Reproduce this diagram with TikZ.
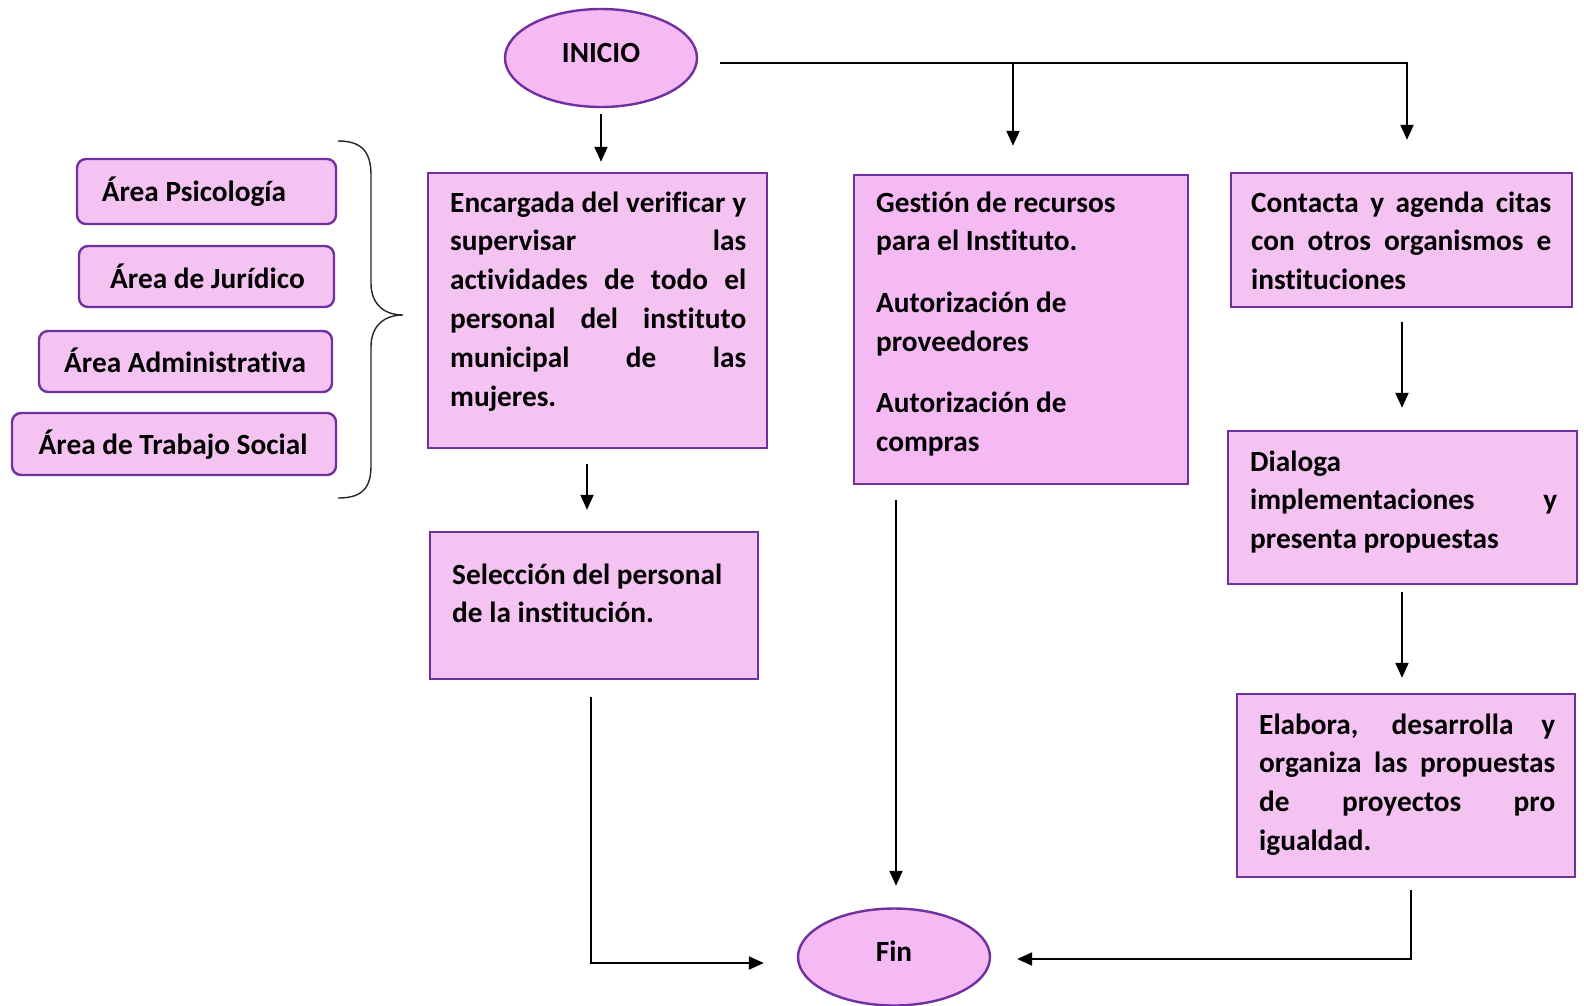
\documentclass[tikz,border=0pt]{standalone}
\usepackage{fontspec}
\setmainfont{Carlito}[Ligatures=CommonOff]
\usetikzlibrary{shapes.geometric,arrows.meta,calc}
\definecolor{purp}{HTML}{7030A0}
\definecolor{boxfill}{HTML}{F5C3F2}
\definecolor{ellfill}{HTML}{F5B9F3}
\newcommand\jline[1]{\noindent\makebox[\hsize][s]{#1}\par}
\newcommand\lline[1]{\noindent\makebox[\hsize][l]{#1}\par}
\newcommand\txtblock[3]{\vtop{\hsize=#1pt\parindent=0pt\parskip=0pt\baselineskip=#2pt\lineskiplimit=-100pt\lineskip=0pt #3}}
\begin{document}
\begin{tikzpicture}[x=1pt,y=-1pt,
  every node/.style={font=\fontsize{29.3}{38.9}\selectfont\bfseries},
  procbox/.style={draw=purp, line width=2.4pt, fill=boxfill, rectangle, inner sep=0pt},
  procboxb/.style={procbox, fill=ellfill},
  areabox/.style={procbox, rounded corners=9pt},
  term/.style={draw=purp, line width=2.4pt, fill=ellfill, ellipse, inner sep=0pt, text height=18.7pt, text depth=10pt},
  txt/.style={anchor=base west, inner sep=0pt},
  conn/.style={line width=2pt, -{Triangle[length=15pt,width=13pt]}},
]
\useasboundingbox[fill=white] (0,0) rectangle (1584,1005);

% terminals
\node[term, minimum width=192pt, minimum height=98pt] (inicio) at (601,58) {INICIO};
\node[term, minimum width=192pt, minimum height=97pt] (fin) at (894,957) {Fin};

% process boxes
\node[procbox, minimum width=339pt, minimum height=275pt] (box1) at (597.5,310.5) {};
\node[procbox, minimum width=328pt, minimum height=147pt] (sel) at (594,605.5) {};
\node[procboxb, minimum width=334pt, minimum height=309pt] (gest) at (1021,329.5) {};
\node[procbox, minimum width=341pt, minimum height=134pt] (cont) at (1401.5,240) {};
\node[procbox, minimum width=349pt, minimum height=153pt] (dial) at (1402.5,507.5) {};
\node[procbox, minimum width=338pt, minimum height=183pt] (elab) at (1406,785.5) {};

% area boxes
\node[areabox, minimum width=259pt, minimum height=65pt] (psi) at (206.5,191.5) {};
\node[areabox, minimum width=255pt, minimum height=61pt] (jur) at (206.5,276.5) {};
\node[areabox, minimum width=293pt, minimum height=61pt] (adm) at (185.5,361.5) {};
\node[areabox, minimum width=324pt, minimum height=62pt] (tra) at (174,444) {};

% texts
\node[txt] (t1) at (450,212) {\txtblock{296}{38.9}{%
  \jline{Encargada del verificar y}
  \jline{supervisar las}
  \jline{actividades de todo el}
  \jline{personal del instituto}
  \jline{municipal de las}
  \lline{mujeres.}}};
\node[txt] (tsel) at (452,584) {\txtblock{300}{38.5}{%
  \lline{Selección del personal}
  \lline{de la institución.}}};
\node[txt] (tgest) at (876,212) {\txtblock{300}{38.9}{%
  \lline{Gestión de recursos}
  \lline{para el Instituto.}
  \vskip22.5pt
  \lline{Autorización de}
  \lline{proveedores}
  \vskip22.5pt
  \lline{Autorización de}
  \lline{compras}}};
\node[txt] (tcont) at (1251,212) {\txtblock{300}{38.6}{%
  \jline{Contacta y agenda citas}
  \jline{con otros organismos e}
  \lline{instituciones}}};
\node[txt] (tdial) at (1250,471) {\txtblock{307}{38.8}{%
  \lline{Dialoga}
  \jline{implementaciones y}
  \lline{presenta propuestas}}};
\node[txt] (telab) at (1259,734) {\txtblock{296}{38.7}{%
  \jline{Elabora, desarrolla y}
  \jline{organiza las propuestas}
  \jline{de proyectos pro}
  \lline{igualdad.}}};

\node[txt] (tpsi) at (101.7,201) {Área Psicología};
\node[txt] (tjur) at (110,288) {Área de Jurídico};
\node[txt] (tadm) at (64,372) {Área Administrativa};
\node[txt] (ttra) at (38.5,454) {Área de Trabajo Social};

% brace
\draw[line width=1.4pt, color=black!85] (338,141) .. controls (360,141) and (371,150) .. (371,175)
  -- (371,283) .. controls (371,305) and (385,315) .. (403,315)
  .. controls (385,315) and (371,325) .. (371,347)
  -- (371,466) .. controls (371,490) and (360,498) .. (338,498);

% connectors
\draw[conn] ($(inicio.south)+(0,6)$) -- ($(inicio.south |- box1.north)+(0,-10)$);
\coordinate (topstart) at ($(inicio.east)+(22,5)$);
\coordinate (ctip) at ($(cont.north)+(5.5,-32)$);
\coordinate (gtip) at ($(gest.north)+(-8,-28)$);
\draw[conn] (topstart) -| (ctip);
\draw[conn] (topstart -| gtip) -- (gtip);
\draw[conn] ($(box1.south)+(-10.5,15)$) -- ($(sel.north)+(-7,-21)$);
\draw[conn] ($(sel.south)+(-3,17)$) |- ($(fin.west)+(-33,6)$);
\draw[conn] ($(gest.south)+(-125,15)$) -- ($(fin.north)+(2,-21.5)$);
\draw[conn] ($(cont.south)+(0.5,14)$) -- ($(dial.north)+(-0.5,-22)$);
\draw[conn] ($(dial.south)+(-0.5,7)$) -- ($(elab.north)+(-4,-15)$);
\draw[conn] ($(elab.south)+(5,12)$) |- ($(fin.east)+(26,2)$);
\end{tikzpicture}
\end{document}
